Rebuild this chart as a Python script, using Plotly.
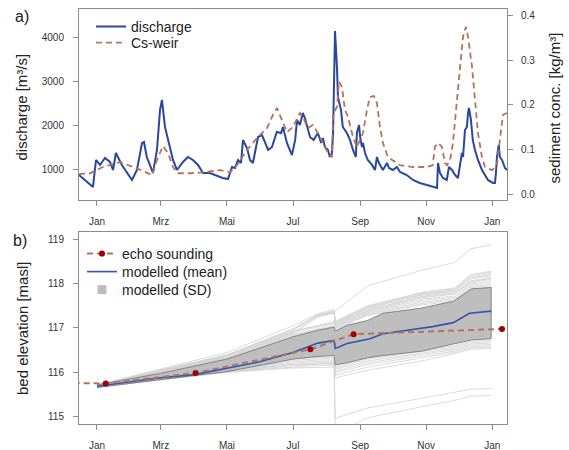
import pandas as pd
import plotly.graph_objects as go

BASE = pd.Timestamp("2014-01-01")

# ---------------- panel a ----------------
# discharge, days after 1 Jan, m3/s
q_day = [-16.6, -3.7, -0.9, 2.8, 7.4, 12, 14.8, 17.5, 23, 25.9, 32.3, 36.9, 41.6, 43.4, 46, 51.7,
         55.4, 58.2, 60, 62.8, 65.6, 70.2, 73.9, 79.4, 84, 88.6, 93.3, 97.9, 104.3, 111, 116, 121,
         124.7, 127.4, 130.2, 133, 134.8, 138.5, 141.3, 144, 146.8, 148.7, 152.4, 155, 158, 161.6,
         166, 170, 171.7, 175.4, 180, 183, 184.7, 187.4, 190, 192, 194.8, 196.7, 200, 203, 204, 207,
         208.6, 210.5, 213.3, 215, 217, 218, 219, 219.8, 221.6, 222.5, 225.3, 227, 230.8, 233.6,
         236.4, 239, 240, 242, 243, 244.7, 245.6, 247.5, 250, 254, 256.7, 258.5, 260.4, 264, 267.8,
         269.6, 273.3, 277, 279.8, 286, 291.8, 298, 304.7, 310, 314, 314.9, 316.7, 319.5, 323, 325,
         327.8, 330.6, 333.3, 337, 338, 339.8, 341.6, 342.6, 343.5, 345.3, 347, 349, 351.8, 355.5,
         358, 361, 365.6, 367.5, 368.4, 369.3, 371, 372, 374, 376.7, 378.6]
q_val = [886, 614, 1227, 1114, 1273, 1182, 1000, 1386, 1114, 1000, 773, 1000, 1614, 1636, 1295, 932,
         1455, 2364, 2591, 1977, 1682, 1227, 1000, 1182, 1295, 1227, 1114, 932, 932, 864, 818, 795,
         1068, 1045, 1227, 1159, 1682, 1500, 1227, 1159, 1523, 1750, 1795, 1614, 1455, 1523,
         1864, 1841, 1977, 1614, 1340, 1682, 2136, 2023, 2295, 2180, 1909, 1750, 1682, 1795, 1841, 1614,
         1727, 1523, 1455, 1295, 1386, 1841, 2977, 4160, 3341, 2659, 2364, 1977, 1841, 1682,
         1455, 1295, 1841, 2023, 1750, 1523, 1614, 1386, 1227, 1114, 1000, 1295, 1159, 1000, 1159,
         1045, 1000, 1068, 955, 886, 773, 705, 659, 614, 591, 1159, 932, 818, 773, 1068,
         1000, 886, 818, 1386, 1295, 1909, 1977, 2295, 2409, 2136, 1682, 1455, 1227, 1000,
         886, 773, 705, 705, 932, 1295, 1568, 1295, 1227, 1045, 1000]

# sediment concentration at the weir, kg/m3
cs_day = [-16.6, -6.5, 5.5, 21.2, 37, 50.8, 56.3, 61, 65.6, 70.2, 74.8, 85.9, 97.9, 113.6, 122.8,
          129.3, 138.5, 147.7, 157, 162.5, 166.2, 170.8, 175.4, 181, 187.4, 190, 194.8, 199.4, 204,
          208.7, 213.3, 217, 218, 221.6, 223.5, 226.2, 229, 231.8, 236.4, 240, 242.8, 245.6, 249.3,
          252, 255.8, 258.5, 261.3, 264, 268.7, 273.3, 279.8, 291.8, 304.7, 310, 312, 314.9, 318.6,
          321.3, 323.2, 326, 328.7, 332.4, 335.2, 338, 340.7, 342.6, 346.3, 349, 351.8, 355.5, 358.3,
          364.7, 369.3, 372, 374.9, 378.6]
cs_val = [0.045, 0.047, 0.061, 0.072, 0.058, 0.043, 0.083, 0.108, 0.092, 0.061, 0.047, 0.047, 0.049,
          0.054, 0.049, 0.065, 0.099, 0.126, 0.148, 0.178, 0.193, 0.166, 0.139, 0.151, 0.182, 0.173,
          0.148, 0.155, 0.137, 0.115, 0.092, 0.083, 0.178, 0.196, 0.252, 0.240, 0.189, 0.173, 0.128,
          0.106, 0.121, 0.137, 0.189, 0.218, 0.220, 0.204, 0.151, 0.115, 0.083, 0.076, 0.065, 0.061,
          0.061, 0.065, 0.106, 0.115, 0.106, 0.070, 0.065, 0.076, 0.115, 0.211, 0.285, 0.353, 0.375,
          0.353, 0.285, 0.211, 0.137, 0.083, 0.061, 0.054, 0.065, 0.121, 0.178, 0.182]

# ---------------- panel b ----------------
echo_day = [-40, 8, 91, 197, 237, 374]
echo_val = [115.77, 115.75, 115.99, 116.52, 116.86, 116.98]

mean_day = [0, 30, 59, 90, 120, 150, 181, 204, 219, 220, 231, 252, 264, 310, 329, 344, 364]
mean_val = [115.69, 115.79, 115.88, 115.95, 116.10, 116.24, 116.45, 116.66, 116.72, 116.54, 116.65,
            116.76, 116.87, 117.03, 117.12, 117.33, 117.38]

sd_day = [0, 59, 120, 181, 204, 219, 220, 231, 250, 264, 300, 310, 329, 346, 364]
sd_upper = [115.72, 115.98, 116.30, 116.80, 116.95, 117.02, 116.93, 117.06, 117.17, 117.33, 117.45,
            117.50, 117.60, 117.88, 117.91]
sd_lower = [115.66, 115.84, 116.02, 116.30, 116.36, 116.38, 116.17, 116.22, 116.33, 116.38, 116.48,
            116.53, 116.64, 116.73, 116.76]

ens_day = [0, 59, 120, 181, 204, 219, 220, 250, 300, 330, 345, 364]
ens_vals = [
    [115.72, 116.08, 116.45, 117.05, 117.32, 117.42, 117.38, 117.95, 118.30, 118.47, 118.78, 118.87],
    [115.71, 116.06, 116.40, 116.98, 117.30, 117.38, 117.15, 117.50, 117.80, 117.90, 118.20, 118.28],
    [115.71, 116.05, 116.39, 116.97, 117.29, 117.37, 117.14, 117.49, 117.79, 117.88, 118.18, 118.26],
    [115.71, 116.05, 116.38, 116.95, 117.28, 117.36, 117.12, 117.47, 117.77, 117.86, 118.15, 118.23],
    [115.71, 116.04, 116.37, 116.93, 117.06, 117.14, 117.11, 117.45, 117.75, 117.84, 118.12, 118.20],
    [115.71, 116.04, 116.36, 116.92, 117.05, 117.12, 117.10, 117.44, 117.74, 117.83, 118.10, 118.18],
    [115.71, 116.03, 116.34, 116.90, 117.02, 117.10, 117.08, 117.41, 117.71, 117.80, 118.06, 118.14],
    [115.71, 116.03, 116.33, 116.89, 117.26, 117.34, 117.07, 117.40, 117.70, 117.78, 118.04, 118.12],
    [115.70, 116.03, 116.32, 116.88, 117.25, 117.33, 117.06, 117.38, 117.68, 117.76, 118.02, 118.10],
    [115.70, 116.02, 116.30, 116.86, 116.98, 117.06, 117.04, 117.36, 117.65, 117.72, 117.99, 118.06],
    [115.70, 116.01, 116.29, 116.84, 116.96, 117.04, 117.02, 117.34, 117.62, 117.69, 117.96, 118.02],
    [115.70, 116.01, 116.28, 116.82, 116.94, 117.02, 117.01, 117.32, 117.58, 117.66, 117.93, 117.98],
    [115.70, 116.00, 116.27, 116.80, 116.92, 117.00, 116.99, 117.30, 117.55, 117.63, 117.90, 117.95],
    [115.70, 116.00, 116.26, 116.78, 116.90, 116.98, 116.97, 117.28, 117.52, 117.60, 117.88, 117.92],
    [115.69, 115.86, 116.04, 116.30, 116.34, 116.34, 116.13, 116.33, 116.50, 116.60, 116.70, 116.72],
    [115.68, 115.86, 116.03, 116.27, 116.31, 116.31, 116.10, 116.30, 116.47, 116.57, 116.67, 116.69],
    [115.68, 115.85, 116.03, 116.24, 116.28, 116.28, 116.07, 116.26, 116.44, 116.54, 116.64, 116.66],
    [115.68, 115.85, 116.02, 116.21, 116.25, 116.25, 116.03, 116.22, 116.41, 116.51, 116.61, 116.63],
    [115.67, 115.85, 116.02, 116.18, 116.22, 116.22, 115.99, 116.18, 116.37, 116.48, 116.58, 116.60],
    [115.67, 115.84, 116.01, 116.15, 116.19, 116.19, 115.94, 116.12, 116.32, 116.45, 116.55, 116.57],
    [115.67, 115.84, 116.01, 116.12, 116.16, 116.16, 115.88, 116.05, 116.26, 116.42, 116.52, 116.54],
    [115.68, 115.85, 116.02, 116.18, 116.20, 116.20, 114.97, 115.20, 115.42, 115.56, 115.62, 115.64],
    [115.67, 115.84, 116.00, 116.10, 116.12, 116.12, 114.62, 114.98, 115.23, 115.37, 115.47, 115.48],
]

tick_day = [0, 59, 120, 181, 243, 304, 365]
tick_text = ["Jan", "Mrz", "Mai", "Jul", "Sep", "Nov", "Jan"]
x_range_day = [-16.6, 378.6]


def dates(days):
    return [(BASE + pd.Timedelta(days=float(d))).strftime("%Y-%m-%d %H:%M:%S") for d in days]


BLUE = "#2a479e"
BROWN = "#b5725e"
FONT = "Liberation Sans"

fig = go.Figure()

fig.add_trace(go.Scatter(x=dates(q_day), y=q_val, mode="lines", name="discharge",
                         line=dict(color=BLUE, width=2), xaxis="x", yaxis="y", legend="legend"))
fig.add_trace(go.Scatter(x=dates(cs_day), y=cs_val, mode="lines", name="Cs-weir",
                         line=dict(color=BROWN, width=1.8, dash="6px,4px"),
                         xaxis="x", yaxis="y2", legend="legend2"))

for vals in ens_vals:
    fig.add_trace(go.Scatter(x=dates(ens_day), y=vals, mode="lines", showlegend=False,
                             line=dict(color="#d2d2d2", width=0.8), xaxis="x2", yaxis="y3",
                             hoverinfo="skip"))

fig.add_trace(go.Scatter(x=dates(sd_day) + dates(sd_day)[::-1], y=sd_upper + sd_lower[::-1],
                         mode="lines", fill="toself", fillcolor="#bebebe",
                         line=dict(color="#7a7a7a", width=0.9), showlegend=False,
                         xaxis="x2", yaxis="y3", hoverinfo="skip"))

fig.add_trace(go.Scatter(x=dates(mean_day), y=mean_val, mode="lines", name="modelled (mean)",
                         line=dict(color="#2f55b0", width=1.6), xaxis="x2", yaxis="y3",
                         legend="legend4"))
fig.add_trace(go.Scatter(x=dates(echo_day), y=echo_val, mode="lines+markers", name="echo sounding",
                         line=dict(color=BROWN, width=2, dash="6px,4px"),
                         marker=dict(color="#a00000", size=6),
                         xaxis="x2", yaxis="y3", legend="legend3"))
fig.add_trace(go.Scatter(x=[None], y=[None], mode="markers", name="modelled (SD)",
                         marker=dict(color="#bebebe", size=9, symbol="square"),
                         xaxis="x2", yaxis="y3", legend="legend5"))

axis_common = dict(showline=True, mirror=True, linecolor="#8c8c8c", linewidth=1,
                   ticks="outside", ticklen=5, tickcolor="#8c8c8c", showgrid=False,
                   zeroline=False, automargin=False,
                   tickfont=dict(size=10, color="#333", family=FONT))

xr = dates(x_range_day)


def leg(x, y):
    return dict(x=x, y=y, xanchor="left", yanchor="top", bgcolor="rgba(0,0,0,0)",
                font=dict(size=14, family=FONT, color="#222"), tracegroupgap=0)


fig.update_layout(
    width=569, height=450,
    margin=dict(l=79, r=62, t=9, b=26, autoexpand=False),
    paper_bgcolor="white", plot_bgcolor="white",
    font=dict(family=FONT, color="#222"),
    xaxis=dict(domain=[0, 1], anchor="y", type="date", range=xr,
               tickvals=dates(tick_day), ticktext=tick_text, ticklabelstandoff=7, **axis_common),
    yaxis=dict(domain=[0.5398, 1], anchor="x", range=[318, 4659],
               tickvals=[1000, 2000, 3000, 4000], ticklabelstandoff=7, **axis_common),
    yaxis2=dict(overlaying="y", anchor="x", side="right", range=[-0.0128, 0.4148],
                tickvals=[0, 0.1, 0.2, 0.3, 0.4], tickformat=".1f", ticklabelstandoff=6,
                **{k: v for k, v in axis_common.items() if k != "mirror"}),
    xaxis2=dict(domain=[0, 1], anchor="y3", type="date", range=xr,
                tickvals=dates(tick_day), ticktext=tick_text, ticklabelstandoff=7, **axis_common),
    yaxis3=dict(domain=[0, 0.4627], anchor="x2", range=[114.84, 119.16],
                tickvals=[115, 116, 117, 118, 119], ticklabelstandoff=7, **axis_common),
    legend=leg(0.028, 0.9957),
    legend2=leg(0.028, 0.9567),
    legend3=leg(0.007, 0.4482),
    legend4=leg(0.007, 0.4048),
    legend5=leg(0.007, 0.3614),
    annotations=[
        dict(text="discharge [m³/s]", x=-0.1332, y=0.765, xref="paper", yref="paper",
             xanchor="center", yanchor="middle",
             textangle=-90, showarrow=False, font=dict(size=15, family=FONT, color="#222")),
        dict(text="sediment conc. [kg/m³]", x=1.1098, y=0.7627, xref="paper", yref="paper",
             xanchor="center", yanchor="middle",
             textangle=-90, showarrow=False, font=dict(size=15, family=FONT, color="#222")),
        dict(text="bed elevation [masl]", x=-0.1332, y=0.2313, xref="paper", yref="paper",
             xanchor="center", yanchor="middle",
             textangle=-90, showarrow=False, font=dict(size=15, family=FONT, color="#222")),
        dict(text="a)", x=-0.1343, y=0.982, xref="paper", yref="paper", showarrow=False,
             xanchor="center", yanchor="middle", font=dict(size=16, family=FONT, color="#222")),
        dict(text="b)", x=-0.1367, y=0.4422, xref="paper", yref="paper", showarrow=False,
             xanchor="center", yanchor="middle", font=dict(size=16, family=FONT, color="#222")),
    ],
)

fig.write_html("out.html", config={"displayModeBar": False},
               post_script="document.body.style.margin='0px';")
